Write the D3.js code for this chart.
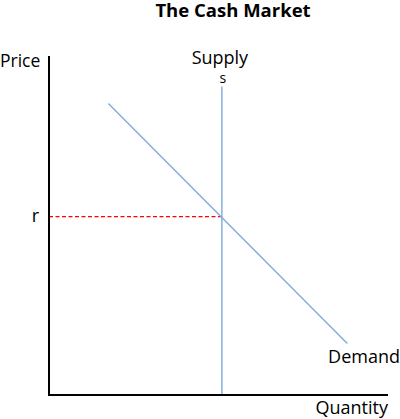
<!DOCTYPE html>
<html>
<head>
<meta charset="utf-8">
<script src="https://cdn.jsdelivr.net/npm/d3@7"></script>
<style>
  body { margin: 0; background: #fff; }
  svg text { font-family: "Open Sans", "Noto Sans", sans-serif; fill: #000; }
</style>
</head>
<body>
<div id="chart"></div>
<script>
// values, on a 0-100 scale for both axes
var supplyQty = [51, 51];
var supplyPrice = [0, 91];
var demandQty = [17.5, 88];
var demandPrice = [86, 15.2];
var rateLevel = [52.6];
var axisLabels = ['Price', 'Quantity'];
var curveLabels = ['Supply', 's', 'Demand', 'r'];

var width = 400, height = 419;

var svg = d3.select('#chart').append('svg')
  .attr('width', width).attr('height', height);

var x = d3.scaleLinear().domain([0, 100]).range([49, 388]);
var y = d3.scaleLinear().domain([0, 100]).range([395, 56]);

// title
svg.append('text')
  .attr('x', 233).attr('y', 17)
  .attr('text-anchor', 'middle')
  .attr('font-size', 18.5).attr('font-weight', 'bold')
  .text('The Cash Market');

// dashed r line, drawn first so supply sits on top
svg.append('line')
  .attr('x1', x(0)).attr('x2', x(supplyQty[0]))
  .attr('y1', y(rateLevel[0])).attr('y2', y(rateLevel[0]))
  .attr('stroke', '#ff0000').attr('stroke-width', 1.3)
  .attr('stroke-dasharray', '4,2.5');

var line = d3.line().x(function(d) { return x(d[0]); }).y(function(d) { return y(d[1]); });

svg.append('path')
  .attr('d', line(d3.zip(supplyQty, supplyPrice)))
  .attr('stroke', '#7fabdc').attr('stroke-width', 1.4).attr('fill', 'none');

svg.append('path')
  .attr('d', line(d3.zip(demandQty, demandPrice)))
  .attr('stroke', '#7fabdc').attr('stroke-width', 1.4).attr('fill', 'none');

// axes: plain lines, no ticks
svg.append('path')
  .attr('d', line([[0, 100], [0, 0], [100, 0]]))
  .attr('stroke', '#000').attr('stroke-width', 2).attr('fill', 'none');

// labels
svg.append('text').attr('x', 0).attr('y', 67).attr('font-size', 17.5).text(axisLabels[0]);
svg.append('text').attr('x', 388).attr('y', 414).attr('text-anchor', 'end').attr('font-size', 18).text(axisLabels[1]);
svg.append('text').attr('x', x(supplyQty[0]) - 2).attr('y', 64).attr('text-anchor', 'middle').attr('font-size', 18).text(curveLabels[0]);
svg.append('text').attr('x', x(supplyQty[0]) + 1).attr('y', 83).attr('text-anchor', 'middle').attr('font-size', 14).text(curveLabels[1]);
svg.append('text').attr('x', 400).attr('y', 363).attr('text-anchor', 'end').attr('font-size', 18).text(curveLabels[2]);
svg.append('text').attr('x', 39).attr('y', y(rateLevel[0]) + 5).attr('text-anchor', 'end').attr('font-size', 18).text(curveLabels[3]);
</script>
</body>
</html>
